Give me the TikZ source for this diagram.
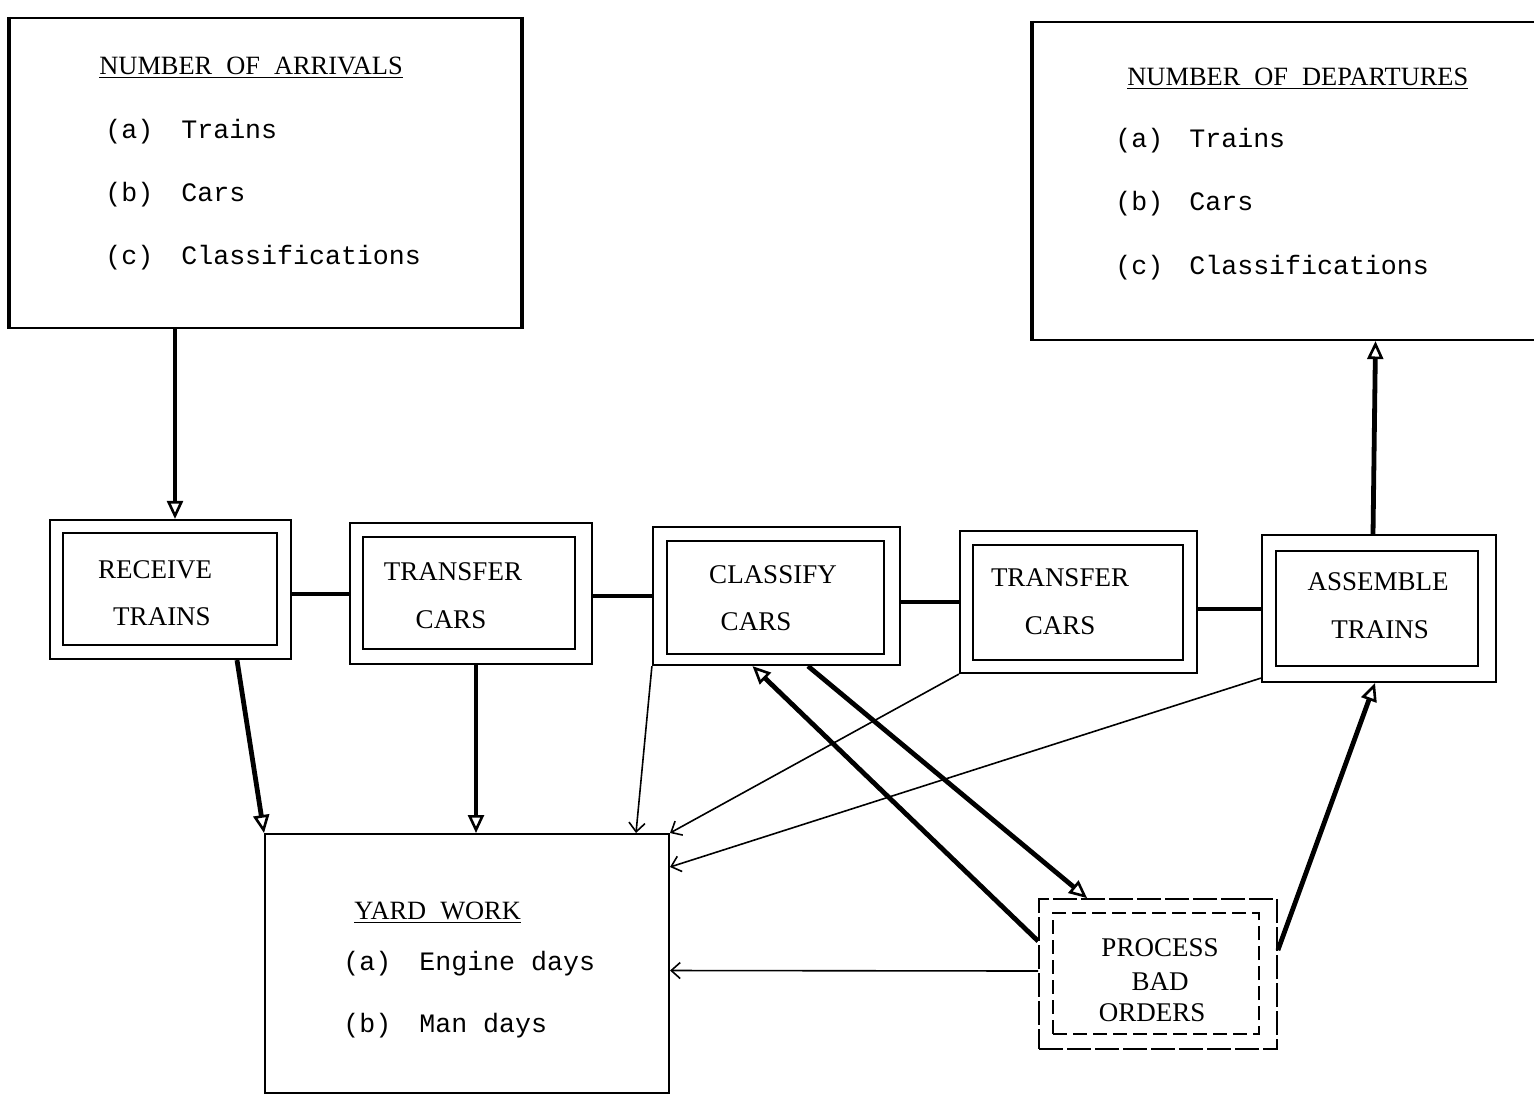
\documentclass[tikz,border=0pt]{standalone}
\usepackage{fontspec}
\setmainfont{Liberation Serif}
\newfontfamily\tw{Liberation Mono}
\usetikzlibrary{arrows.meta,fit,calc}
\begin{document}
\begin{tikzpicture}[x=0.5pt,y=-0.5pt,
  boxln/.style={draw, line width=1.1pt, inner sep=0pt},
  lbl/.style={font=\fontsize{13.5}{15}\selectfont, inner sep=0pt},
  ttl/.style={font=\fontsize{13.2}{15}\selectfont, inner sep=0pt, anchor=base west},
  tt/.style={font=\tw\fontsize{13.3}{16}\selectfont, anchor=base west, inner sep=0pt},
  thickarr/.style={line width=2.4pt, -{Triangle[open,length=9pt,width=8pt,line width=1.3pt]}},
  thinarr/.style={line width=0.8pt, -{Straight Barb[length=4.5pt,width=8pt,line width=0.8pt]}},
  link/.style={line width=2pt},
]
\useasboundingbox (0,0) rectangle (1534,1098);

% ---------- input / output boxes ----------
\node[boxln, fit={(10,18)(521,328)}] (arr) {};
\draw[line width=2.2pt] (arr.north west) -- (arr.south west);
\draw[line width=2.2pt] (arr.north east) -- (arr.south east);
\node[ttl] (arrT) at (99,74) {\underline{NUMBER\hspace{7pt}OF\hspace{7pt}ARRIVALS}};
\node[tt] (arrA) at (105,138) {(a)};
\node[tt] (arrA2) at (181,138) {Trains};
\node[tt] (arrB) at (105,201) {(b)};
\node[tt] (arrB2) at (181,201) {Cars};
\node[tt] (arrC) at (105,264) {(c)};
\node[tt] (arrC2) at (181,264) {Classifications};

\node[boxln, fit={(1033,22)(1548,340)}] (dep) {};
\draw[line width=2.2pt] (dep.north west) -- (dep.south west);
\node[ttl] (depT) at (1127,85) {\underline{NUMBER\hspace{7pt}OF\hspace{7pt}DEPARTURES}};
\node[tt] (depA) at (1115,147) {(a)};
\node[tt] (depA2) at (1189,147) {Trains};
\node[tt] (depB) at (1115,210) {(b)};
\node[tt] (depB2) at (1189,210) {Cars};
\node[tt] (depC) at (1115,274) {(c)};
\node[tt] (depC2) at (1189,274) {Classifications};

% ---------- process boxes ----------
\node[boxln, fit={(50,520)(291,659)}] (rcvO) {};
\node[boxln, fit={(63,533)(277,645)}] (rcvI) {};
\node[lbl] (rcv1) at (155,570) {RECEIVE};
\node[lbl] (rcv2) at (162,617) {TRAINS};

\node[boxln, fit={(350,523)(592,664)}] (tr1O) {};
\node[boxln, fit={(363,537)(575,649)}] (tr1I) {};
\node[lbl] (tr1a) at (453,572) {TRANSFER};
\node[lbl] (tr1b) at (451,620) {CARS};

\node[boxln, fit={(653,527)(900,665)}] (clsO) {};
\node[boxln, fit={(667,541)(884,654)}] (clsI) {};
\node[lbl] (cls1) at (773,575) {CLASSIFY};
\node[lbl] (cls2) at (756,622) {CARS};

\node[boxln, fit={(960,531)(1197,673)}] (tr2O) {};
\node[boxln, fit={(973,545)(1183,660)}] (tr2I) {};
\node[lbl] (tr2a) at (1060,578) {TRANSFER};
\node[lbl] (tr2b) at (1060,626) {CARS};

\node[boxln, fit={(1262,535)(1496,682)}] (asmO) {};
\node[boxln, fit={(1276,551)(1478,666)}] (asmI) {};
\node[lbl] (asm1) at (1378,582) {ASSEMBLE};
\node[lbl] (asm2) at (1380,630) {TRAINS};

% ---------- yard work ----------
\node[draw, line width=1pt, inner sep=0pt, fit={(265,834)(669,1093)}] (yw) {};
\node[ttl] (ywT) at (354,919) {\underline{YARD\hspace{7pt}WORK}};
\node[tt] (ywA) at (343,970) {(a)};
\node[tt] (ywA2) at (419,970) {Engine days};
\node[tt] (ywB) at (343,1032) {(b)};
\node[tt] (ywB2) at (419,1032) {Man days};

% ---------- process bad orders ----------
\node[draw, line width=0.9pt, dash pattern=on 12pt off 2pt, inner sep=0pt, fit={(1039,899)(1277,1049)}] (pboO) {};
\node[draw, line width=0.8pt, dash pattern=on 7pt off 3pt, inner sep=0pt, fit={(1053,913)(1259,1034)}] (pboI) {};
\node[lbl] (pbo1) at (1160,948) {PROCESS};
\node[lbl] (pbo2) at (1160,982) {BAD};
\node[lbl] (pbo3) at (1152,1013) {ORDERS};

% ---------- chain links ----------
\draw[link] (rcvO.east |- tr1O.west) -- (tr1O.west);
\draw[link] (tr1O.east |- clsO.west) -- (clsO.west);
\draw[link] (clsO.east |- tr2O.west) -- (tr2O.west);
\draw[link] (tr2O.east |- asmO.west) -- (asmO.west);

% ---------- arrows ----------
\draw[thickarr] ($(arr.south)+(-90.5,0)$) -- ($(rcvO.north)+(4.5,0)$);
\draw[thickarr] ($(asmO.north)+(-6,0)$) -- ($(dep.south)+(85,0)$);

\draw[thickarr] ($(rcvO.south)+(66.5,0)$) -- (yw.north west);
\draw[thickarr] ($(tr1O.south)+(5,0)$) -- ($(yw.north)+(9,0)$);
\draw[thinarr] (clsO.south west) -- ($(yw.north east)+(-34,0)$);
\draw[thinarr] (tr2O.south west) -- (yw.north east);
\draw[thinarr] ($(asmO.south west)+(0,-5)$) -- ($(yw.north east)+(0,34)$);
\draw[thinarr] ($(pboO.west)+(0,-3)$) -- ($(yw.east)+(0,7)$);

\draw[thickarr] ($(pboO.north west)+(0,43)$) -- ($(clsO.south)+(-24,0)$);
\draw[thickarr] ($(clsO.south)+(31.5,0)$) -- ($(pboO.north west)+(49,0)$);
\draw[thickarr] ($(pboO.north east)+(0,52)$) -- ($(asmO.south)+(-4,0)$);
\end{tikzpicture}
\end{document}
